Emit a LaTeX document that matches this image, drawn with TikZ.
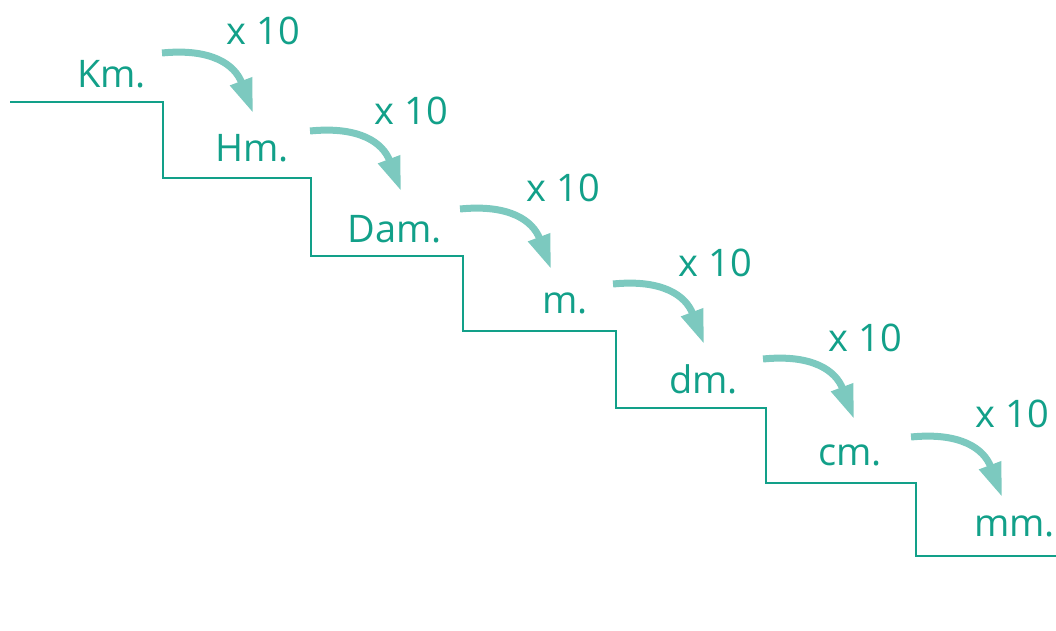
\documentclass[tikz,border=0pt]{standalone}
\usepackage{fontspec}
\setmainfont{Open Sans}
\usetikzlibrary{arrows.meta,calc}
\definecolor{stairgreen}{HTML}{12A089}
\definecolor{arrowgreen}{HTML}{7CC9BF}
\tikzset{
	unit/.style={text=stairgreen, font=\fontsize{38}{38}\selectfont, inner sep=0pt, anchor=base east},
	times/.style={unit},
	jump/.style={arrowgreen, line width=7pt, -{Triangle[length=34pt,width=22pt]}},
}

\begin{document}
\begin{tikzpicture}[x=1pt,y=1pt]
		\useasboundingbox (0,0) rectangle (1056,630);

		% Escalera
		\draw[stairgreen, line width=1.3pt] (10,528) -| (163,452) -| (311,374) -| (463,299) -| (616,222) -| (766,147) -| (916,74) -- (1056,74);

		% Unidades
		\node[unit] (km) at (146,542) {Km.};
		\node[unit] (hm) at (289,468) {Hm.};
		\node[unit] (dam) at (442,388) {Dam.};
		\node[unit] (m) at (588,317) {m.};
		\node[unit] (dm) at (738,237) {dm.};
		\node[unit] (cm) at (882,165) {cm.};
		\node[unit] (mm) at (1055,94) {mm.};

		% Factores
		\node[times] (t1) at (300,585) {x 10};
		\node[times] (t2) at (448,505) {x 10};
		\node[times] (t3) at (600,428) {x 10};
		\node[times] (t4) at (752,354) {x 10};
		\node[times] (t5) at (902,279) {x 10};
		\node[times] (t6) at (1049,203) {x 10};

		% Flechas
		\foreach \n/\x/\y in {1/162/577, 2/310/499, 3/460/421, 4/613/346, 5/763/271, 6/911/193}{
			\coordinate (s\n) at (\x,\y);
			\coordinate (e\n) at (\x+91,\y-60);
			\draw[jump] (s\n) .. controls ($(s\n)+(50,5)$) and ($(e\n)+(-18,48)$) .. (e\n);
		}

	\end{tikzpicture}
\end{document}
